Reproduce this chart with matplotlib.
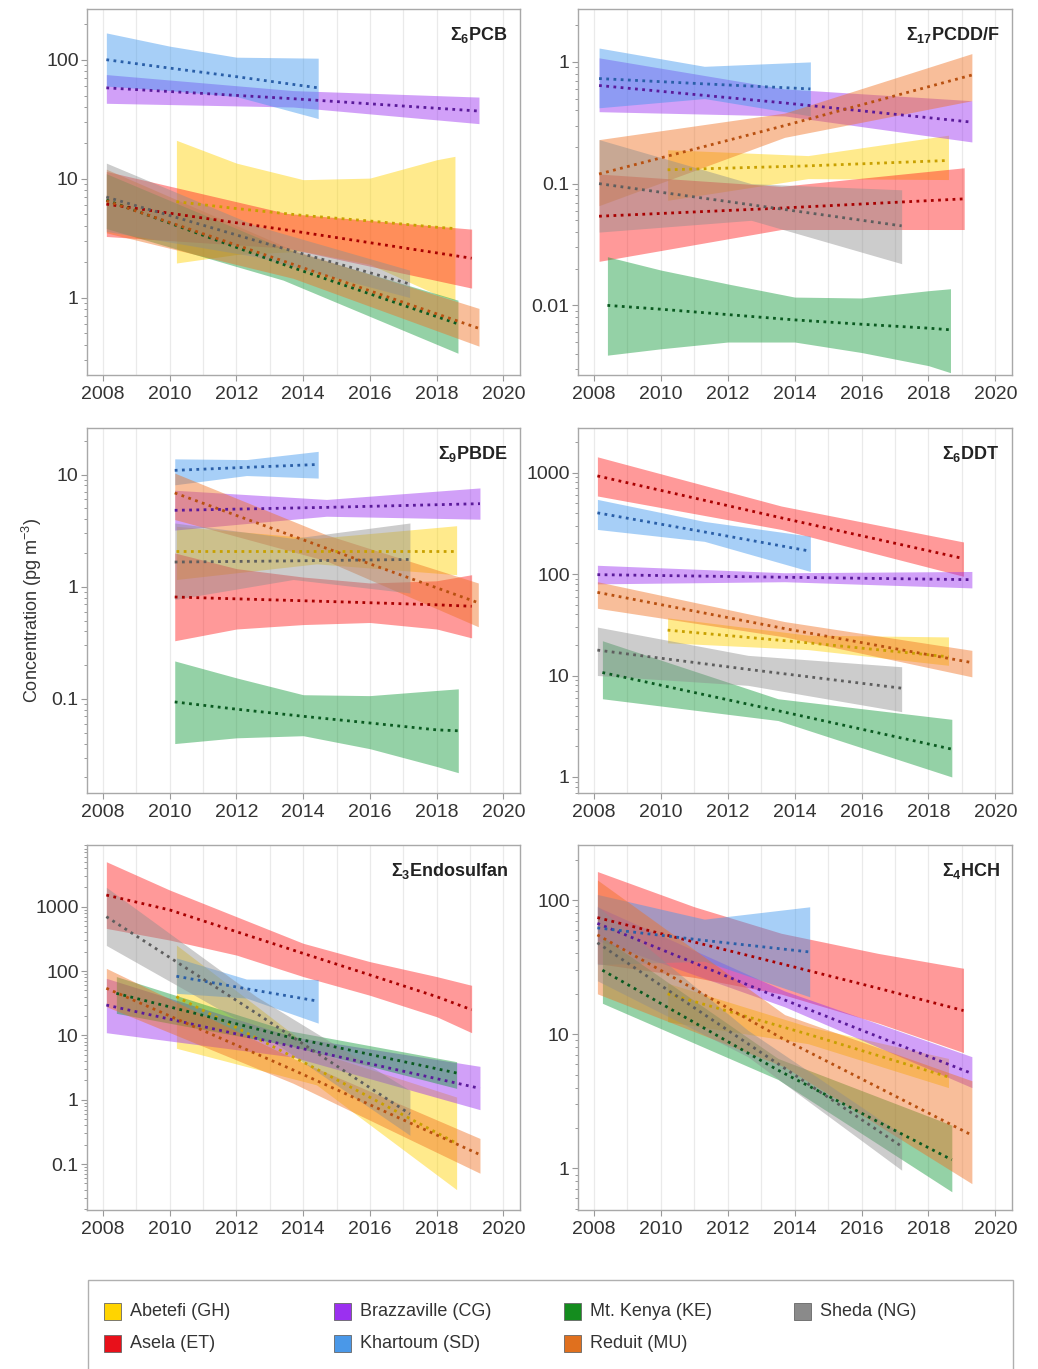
import numpy as np
import matplotlib.pyplot as plt
from matplotlib.patches import Rectangle
from matplotlib.ticker import LogLocator, FuncFormatter, NullFormatter


plt.rcParams['font.family'] = ['Liberation Sans', 'DejaVu Sans']
plt.rcParams['mathtext.default'] = 'regular'


# ==========================
# Sites and colours
# ==========================

sites = ["Abetefi (GH)", "Asela (ET)", "Brazzaville (CG)", "Khartoum (SD)",
         "Mt. Kenya (KE)", "Reduit (MU)", "Sheda (NG)"]

fill_colors = ["#FFD200", "#FF1E1E", "#9A2EF0", "#3D96EE", "#139A3A", "#F07020", "#8E8E8E"]
line_colors = ["#C8A000", "#A80000", "#5A1A9A", "#2A5FA8", "#0A5A20", "#B85010", "#5E5E5E"]
legend_colors = ["#FFD400", "#E8101A", "#9B30F0", "#4A98E8", "#148C1E", "#E0701E", "#8A8A8A"]


# ==========================
# Data read off the trend fits (years, fitted value, lower / upper band)
# order: Abetefi, Asela, Brazzaville, Khartoum, Mt. Kenya, Reduit, Sheda
# ==========================

# --- PCB ---
pcb_years = [[2010.2, 2012, 2014, 2016, 2018, 2018.55], [2008.1, 2013.5, 2019.05],
             [2008.1, 2013.7, 2019.27], [2008.1, 2010, 2012, 2014.45],
             [2008.1, 2013.4, 2018.64], [2008.1, 2013.7, 2019.27], [2008.1, 2012.6, 2017.19]]
pcb_fit = [[6.4, 5.6, 4.9, 4.4, 3.9, 3.8], [6.1, 3.7, 2.14], [58, 47, 37], [100, 85, 72, 58],
           [6.6, 1.9, 0.6], [6.5, 1.9, 0.55], [7.0, 3.0, 1.3]]
pcb_low = [[1.95, 2.3, 2.45, 1.9, 1.06, 0.95], [3.26, 2.6, 1.2], [43, 40, 29], [60, 55, 49, 32],
           [3.8, 1.4, 0.34], [3.5, 1.45, 0.39], [3.6, 2.2, 1.0]]
pcb_high = [[21, 13.5, 9.8, 10.1, 14.4, 15.4], [11.5, 5.1, 3.76], [75, 55, 48.5], [168, 130, 105, 103],
            [11, 2.6, 0.95], [12, 2.5, 0.81], [13.5, 4.0, 1.7]]

# --- PCDD/F ---
pcdd_years = [[2010.2, 2014.4, 2018.6], [2008.15, 2013.6, 2019.07], [2008.15, 2013.7, 2019.3],
              [2008.15, 2011.3, 2014.47], [2008.4, 2010, 2012, 2014, 2016, 2018, 2018.66],
              [2008.15, 2013.7, 2019.3], [2008.15, 2012.7, 2017.2]]
pcdd_fit = [[0.13, 0.14, 0.155], [0.054, 0.063, 0.075], [0.64, 0.46, 0.32], [0.73, 0.66, 0.60],
            [0.0100, 0.0093, 0.0084, 0.0076, 0.0070, 0.0065, 0.0063],
            [0.12, 0.30, 0.78], [0.10, 0.067, 0.045]]
pcdd_low = [[0.073, 0.11, 0.108], [0.023, 0.042, 0.042], [0.39, 0.36, 0.22], [0.42, 0.5, 0.36],
            [0.0039, 0.0044, 0.0050, 0.0050, 0.0041, 0.0032, 0.0028],
            [0.066, 0.24, 0.48], [0.04, 0.05, 0.022]]
pcdd_high = [[0.19, 0.17, 0.25], [0.12, 0.095, 0.135], [1.08, 0.6, 0.48], [1.3, 0.92, 1.0],
             [0.0251, 0.0195, 0.0150, 0.0117, 0.0115, 0.0132, 0.0137],
             [0.23, 0.38, 1.17], [0.23, 0.1, 0.089]]

# --- PBDE ---
pbde_years = [[2010.2, 2014.4, 2018.6], [2010.15, 2012, 2014, 2016, 2018, 2019.05],
              [2010.15, 2014.7, 2019.3], [2010.15, 2012.3, 2014.45],
              [2010.15, 2012, 2014, 2016, 2018, 2018.65], [2010.15, 2014.7, 2019.25],
              [2010.15, 2013.7, 2017.2]]
pbde_fit = [[2.1, 2.1, 2.1], [0.81, 0.78, 0.75, 0.72, 0.69, 0.67], [4.8, 5.1, 5.5], [10.9, 11.6, 12.3],
            [0.094, 0.081, 0.070, 0.061, 0.053, 0.052], [6.86, 2.2, 0.72], [1.66, 1.7, 1.75]]
pbde_low = [[1.16, 1.6, 1.28], [0.33, 0.42, 0.46, 0.48, 0.42, 0.35], [3.2, 4.25, 4.0], [8.1, 9.8, 9.3],
            [0.040, 0.045, 0.047, 0.036, 0.025, 0.022], [3.97, 1.7, 0.44], [0.77, 1.16, 0.88]]
pbde_high = [[3.46, 2.7, 3.5], [2.0, 1.45, 1.22, 1.08, 1.13, 1.28], [7.25, 6.0, 7.6], [13.8, 13.6, 16.1],
             [0.218, 0.154, 0.109, 0.107, 0.119, 0.123], [10.3, 2.9, 1.08], [3.7, 2.7, 3.7]]

# --- DDT ---
ddt_years = [[2010.2, 2014.4, 2018.6], [2008.1, 2013.6, 2019.05], [2008.1, 2013.7, 2019.3],
             [2008.1, 2011.3, 2014.47], [2008.25, 2013.5, 2018.7], [2008.1, 2013.7, 2019.3],
             [2008.1, 2012.6, 2017.2]]
ddt_fit = [[28, 21, 15.3], [927, 358, 142], [98.6, 93, 88], [401, 260, 168],
           [10.7, 4.5, 1.88], [66, 29, 13.4], [17.8, 11.5, 7.5]]
ddt_low = [[21, 18, 12.6], [588, 275, 95], [80, 84, 73], [275, 210, 106],
           [5.9, 3.6, 1.0], [46, 24, 9.7], [10, 8, 4.4]]
ddt_high = [[37, 25, 24], [1430, 468, 207], [122, 103, 106], [544, 330, 236],
            [22, 5.9, 3.7], [84, 34, 17.7], [30, 15.8, 12.2]]

# --- Endosulfan ---
endo_years = [[2010.2, 2014.4, 2018.6], [2008.1, 2010, 2012, 2014, 2016, 2018, 2019.05],
              [2008.1, 2013.7, 2019.3], [2010.2, 2012.3, 2014.45], [2008.4, 2013.5, 2018.6],
              [2008.1, 2013.7, 2019.3], [2008.1, 2012.6, 2017.2]]
endo_fit = [[40, 3.0, 0.21], [1517, 890, 409, 188, 87, 40, 25], [29.6, 6.7, 1.5], [83, 53, 34],
            [45, 9.6, 2.6], [54, 2.9, 0.14], [700, 22, 0.6]]
endo_low = [[6.3, 1.7, 0.04], [460, 303, 177, 82, 42, 19.5, 11], [11, 4.6, 0.7], [45, 38, 15.5],
            [22, 7.1, 1.5], [28, 1.8, 0.072], [250, 12, 0.28]]
endo_high = [[254, 5.5, 1.1], [5000, 1815, 700, 270, 140, 82, 60], [77, 9.5, 3.3], [160, 75, 74],
             [82, 12, 3.9], [110, 4.4, 0.25], [2000, 40, 1.4]]

# --- HCH ---
hch_years = [[2010.2, 2014.4, 2018.6], [2008.1, 2011, 2013.6, 2016.5, 2019.05],
             [2008.1, 2013.7, 2019.3], [2008.1, 2011.3, 2014.45], [2008.25, 2013.5, 2018.7],
             [2008.1, 2013.7, 2019.3], [2008.1, 2012.6, 2017.2]]
hch_fit = [[20, 10, 4.8], [74, 48.6, 33.5, 22, 15], [67, 18, 5.1], [62, 50, 41],
           [30, 5.4, 1.16], [55, 9.1, 1.77], [48, 8.5, 1.46]]
hch_low = [[12.4, 8.5, 4.0], [33.6, 26.5, 19.9, 12.1, 7.3], [50, 16, 4.0], [33, 35, 19],
           [17, 4.6, 0.67], [20, 5.7, 0.77], [25, 6.8, 0.97]]
hch_high = [[24, 11.4, 6.6], [163, 89, 56.5, 40, 31], [89, 21, 6.8], [110, 72, 89],
            [53, 6.6, 2.1], [141, 14, 4.5], [90, 10.7, 1.8]]

panel_titles = [r"$\Sigma_{6}$PCB", r"$\Sigma_{17}$PCDD/F", r"$\Sigma_{9}$PBDE",
                r"$\Sigma_{6}$DDT", r"$\Sigma_{3}$Endosulfan", r"$\Sigma_{4}$HCH"]


# ==========================
# Figure layout
# ==========================

W, H = 1038, 1369
fig = plt.figure(figsize=(W / 100, H / 100), dpi=100)

col_px = [(87, 520), (578, 1012)]
row_px = [(9, 375), (428, 793), (845, 1210)]
ylims = [(0.223, 267), (0.00268, 2.72), (0.0145, 26), (0.695, 2750), (0.0193, 9100), (0.49, 257)]

panels = [
    (pcb_years, pcb_fit, pcb_low, pcb_high),
    (pcdd_years, pcdd_fit, pcdd_low, pcdd_high),
    (pbde_years, pbde_fit, pbde_low, pbde_high),
    (ddt_years, ddt_fit, ddt_low, ddt_high),
    (endo_years, endo_fit, endo_low, endo_high),
    (hch_years, hch_fit, hch_low, hch_high),
]


def log_label(v, pos):
    return "{:g}".format(v)


for k, (years, fit, low, high) in enumerate(panels):
    x0, x1 = col_px[k % 2]
    y0, y1 = row_px[k // 2]
    ax = fig.add_axes([x0 / W, 1 - y1 / H, (x1 - x0) / W, (y1 - y0) / H])

    # bands first, then dotted trend lines
    for i in range(len(sites)):
        ax.fill_between(years[i], low[i], high[i], color=fill_colors[i],
                        alpha=0.45, linewidth=0)
    for i in range(len(sites)):
        ax.plot(years[i], fit[i], color=line_colors[i], linestyle=(0, (1, 1.6)),
                linewidth=2.0)

    ax.set_yscale("log")
    ax.set_ylim(*ylims[k])
    ax.set_xlim(2007.52, 2020.5)

    ax.set_xticks(range(2008, 2021, 2))
    ax.set_xticks(range(2008, 2021), minor=True)
    ax.grid(axis="x", which="both", color="#EAEAEA", linewidth=0.9)
    ax.set_axisbelow(True)

    ax.yaxis.set_major_locator(LogLocator(base=10))
    ax.yaxis.set_minor_locator(LogLocator(base=10, subs=np.arange(2, 10)))
    ax.yaxis.set_major_formatter(FuncFormatter(log_label))
    ax.yaxis.set_minor_formatter(NullFormatter())

    ax.tick_params(axis="y", which="major", direction="out", length=4, width=0.8,
                   color="#9A9A9A", labelsize=14, labelcolor="#333333", pad=2)
    ax.tick_params(axis="y", which="minor", direction="out", length=2.5, width=0.7,
                   color="#9A9A9A")
    ax.tick_params(axis="x", which="major", direction="out", length=4, width=0.8,
                   color="#9A9A9A", labelsize=14, labelcolor="#333333", pad=4)
    ax.tick_params(axis="x", which="minor", length=0)

    for s in ax.spines.values():
        s.set_color("#A8A8A8")
        s.set_linewidth(1.0)

    ax.text(0.972, 0.93, panel_titles[k], transform=ax.transAxes, ha="right",
            va="center", fontsize=13, fontweight="bold", color="#222222")


# y label shared
fig.text(32 / W, 1 - 610 / H, "Concentration (pg m$^{-3}$)", rotation=90,
         ha="center", va="center", fontsize=13, color="#333333")


# ==========================
# Legend box
# ==========================

fig.patches.append(Rectangle((88 / W, -0.01), (1013 - 88) / W, 0.01 + 1 - 1280 / H,
                             transform=fig.transFigure, facecolor="white",
                             edgecolor="#B0B0B0", linewidth=1.0))

leg_x = [104, 334, 564, 794]
leg_y = [1311, 1343]
sq = 17
for i, name in enumerate(sites):
    cx = leg_x[i // 2]
    cy = leg_y[i % 2]
    fig.patches.append(Rectangle((cx / W, 1 - (cy + sq / 2) / H), sq / W, sq / H,
                                 transform=fig.transFigure, facecolor=legend_colors[i],
                                 edgecolor="#666666", linewidth=0.6))
    fig.text((cx + sq + 9) / W, 1 - cy / H, name, ha="left", va="center",
             fontsize=13, color="#333333")


fig.savefig("out.png", dpi=100)
